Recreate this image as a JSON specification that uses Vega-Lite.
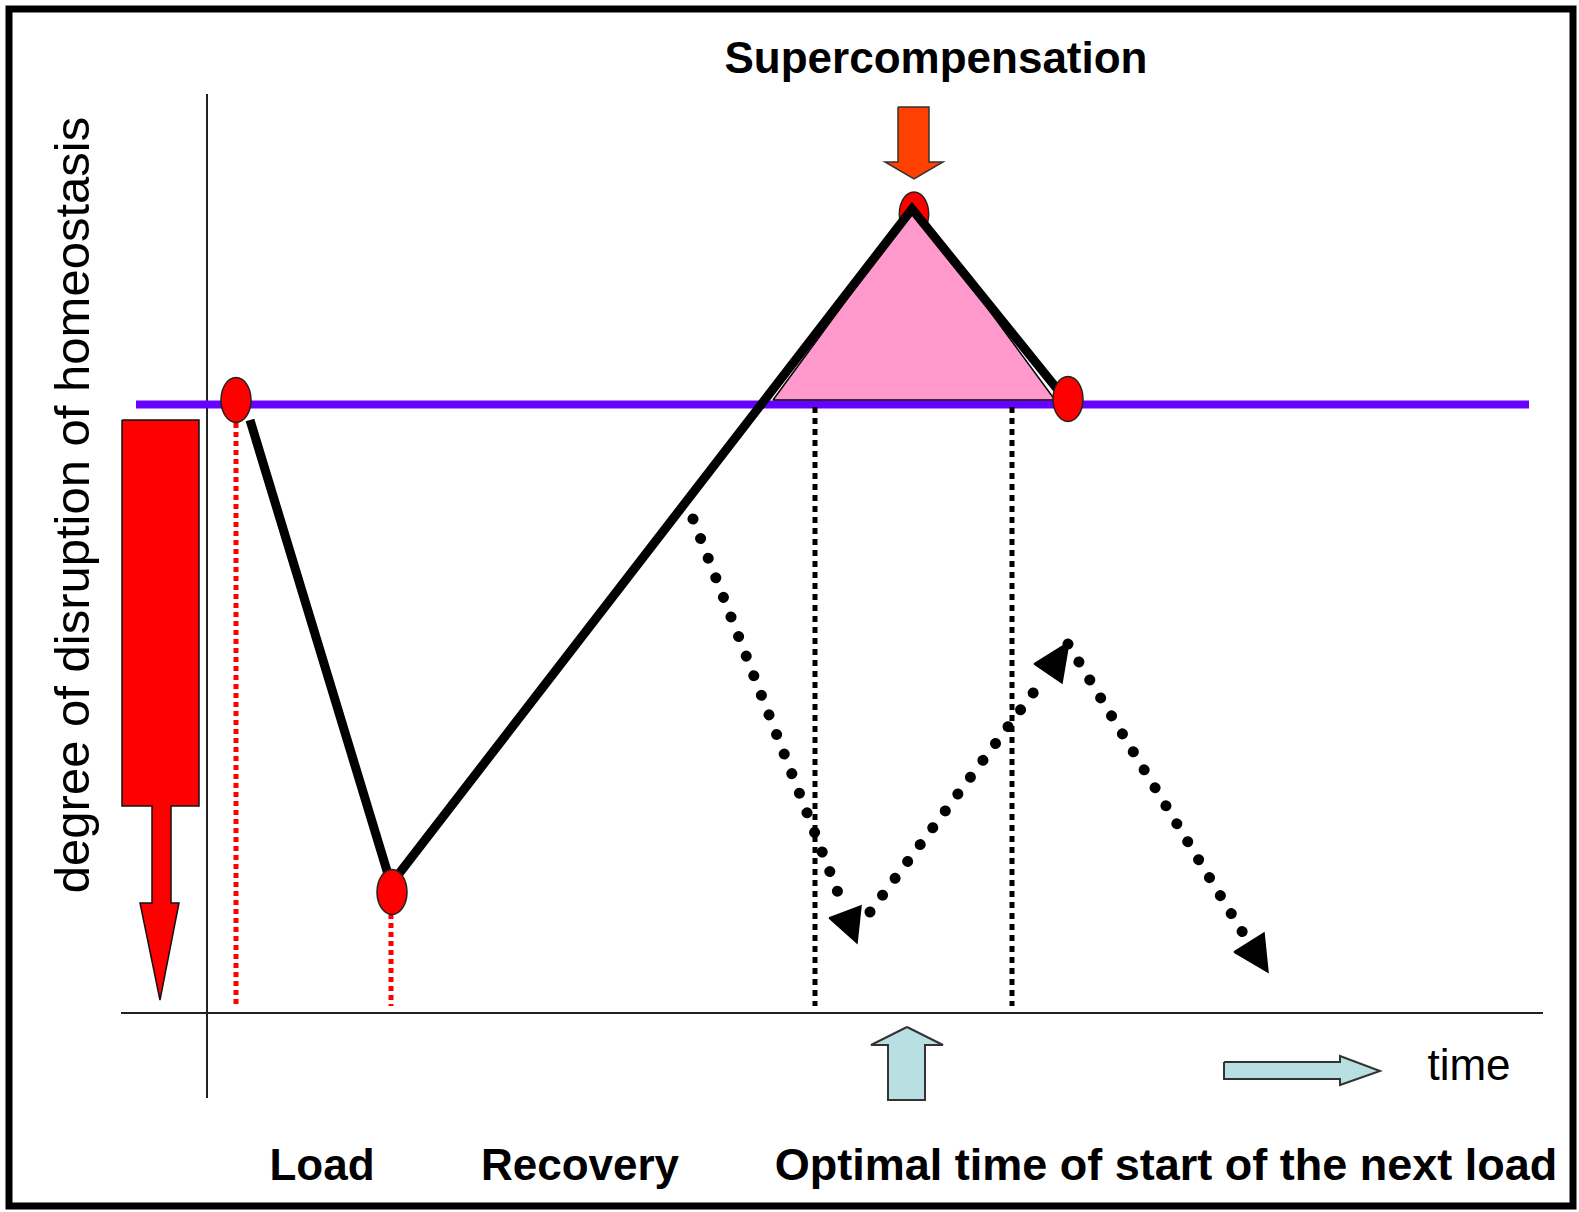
{
  "$schema": "https://vega.github.io/schema/vega-lite/v6.json",
  "width": 1579,
  "height": 1212,
  "padding": 0,
  "autosize": "none",
  "background": "white",
  "config": {"view": {"stroke": null}},
  "datasets": {
    "frame": [{"x": 9, "y": 9, "x2": 1573, "y2": 1206}],
    "axes": [{"x": 207, "y": 94, "x2": 207, "y2": 1098}, {"x": 121, "y": 1013, "x2": 1543, "y2": 1013}],
    "baseline": [{"x": 136, "y": 404.5, "x2": 1529, "y2": 404.5}],
    "redDotted": [{"x": 236, "y": 423, "x2": 236, "y2": 1006}, {"x": 391, "y": 914, "x2": 391, "y2": 1006}],
    "blackDotted": [{"x": 815, "y": 407, "x2": 815, "y2": 1006}, {"x": 1012, "y": 407, "x2": 1012, "y2": 1006}],
    "peakEllipse": [{"x": 914, "y": 214}],
    "ellipses": [{"x": 236, "y": 400}, {"x": 392, "y": 892}, {"x": 1068, "y": 399}],
    "pink": [
      {"i": 0, "x": 773, "y": 400}, {"i": 1, "x": 914, "y": 208}, {"i": 2, "x": 1055, "y": 400}, {"i": 3, "x": 773, "y": 400}
    ],
    "thick": [
      {"i": 0, "x": 250, "y": 420}, {"i": 1, "x": 391, "y": 884}, {"i": 2, "x": 912, "y": 209}, {"i": 3, "x": 1058, "y": 390}
    ],
    "dotted": [
      {"id": "A", "i": 0, "x": 693, "y": 519}, {"id": "A", "i": 1, "x": 842, "y": 903},
      {"id": "B", "i": 0, "x": 870, "y": 912}, {"id": "B", "i": 1, "x": 1045, "y": 677},
      {"id": "C", "i": 0, "x": 1068, "y": 644}, {"id": "C", "i": 1, "x": 1243, "y": 933}
    ],
    "heads": [
      {"id": "T1", "i": 0, "x": 829, "y": 918}, {"id": "T1", "i": 1, "x": 861, "y": 906}, {"id": "T1", "i": 2, "x": 857, "y": 943}, {"id": "T1", "i": 3, "x": 829, "y": 918},
      {"id": "T2", "i": 0, "x": 1034, "y": 664}, {"id": "T2", "i": 1, "x": 1069, "y": 642}, {"id": "T2", "i": 2, "x": 1062, "y": 683}, {"id": "T2", "i": 3, "x": 1034, "y": 664},
      {"id": "T3", "i": 0, "x": 1234, "y": 952}, {"id": "T3", "i": 1, "x": 1264, "y": 933}, {"id": "T3", "i": 2, "x": 1268, "y": 972}, {"id": "T3", "i": 3, "x": 1234, "y": 952}
    ],
    "redArrow": [
      {"i": 0, "x": 122, "y": 420}, {"i": 1, "x": 199, "y": 420}, {"i": 2, "x": 199, "y": 806}, {"i": 3, "x": 171, "y": 806},
      {"i": 4, "x": 171, "y": 903}, {"i": 5, "x": 179, "y": 903}, {"i": 6, "x": 160, "y": 1000}, {"i": 7, "x": 140, "y": 903},
      {"i": 8, "x": 152, "y": 903}, {"i": 9, "x": 152, "y": 806}, {"i": 10, "x": 122, "y": 806}, {"i": 11, "x": 122, "y": 420}
    ],
    "orangeArrow": [
      {"i": 0, "x": 898, "y": 107}, {"i": 1, "x": 929, "y": 107}, {"i": 2, "x": 929, "y": 162}, {"i": 3, "x": 943, "y": 162},
      {"i": 4, "x": 914, "y": 179}, {"i": 5, "x": 885, "y": 162}, {"i": 6, "x": 898, "y": 162}, {"i": 7, "x": 898, "y": 107}
    ],
    "cyanArrows": [
      {"id": "up", "i": 0, "x": 907, "y": 1027}, {"id": "up", "i": 1, "x": 943, "y": 1045}, {"id": "up", "i": 2, "x": 925, "y": 1045},
      {"id": "up", "i": 3, "x": 925, "y": 1100}, {"id": "up", "i": 4, "x": 888, "y": 1100}, {"id": "up", "i": 5, "x": 888, "y": 1045},
      {"id": "up", "i": 6, "x": 871, "y": 1045}, {"id": "up", "i": 7, "x": 907, "y": 1027},
      {"id": "right", "i": 0, "x": 1224, "y": 1062}, {"id": "right", "i": 1, "x": 1340, "y": 1062}, {"id": "right", "i": 2, "x": 1340, "y": 1056},
      {"id": "right", "i": 3, "x": 1380, "y": 1071}, {"id": "right", "i": 4, "x": 1340, "y": 1085}, {"id": "right", "i": 5, "x": 1340, "y": 1079},
      {"id": "right", "i": 6, "x": 1224, "y": 1079}, {"id": "right", "i": 7, "x": 1224, "y": 1062}
    ],
    "boldLabels": [
      {"text": "Supercompensation", "x": 936, "y": 73},
      {"text": "Load", "x": 322, "y": 1180},
      {"text": "Recovery", "x": 580, "y": 1180}
    ],
    "longLabel": [{"text": "Optimal time of start of the next load", "x": 1166, "y": 1180}],
    "timeLabel": [{"text": "time", "x": 1469, "y": 1080}],
    "yLabel": [{"text": "degree of disruption of homeostasis", "x": 89, "y": 505}]
  },
  "encoding": {
    "x": {"field": "x", "type": "quantitative", "scale": {"domain": [0, 1579], "range": [0, 1579], "nice": false, "zero": false}, "axis": null},
    "y": {"field": "y", "type": "quantitative", "scale": {"domain": [0, 1212], "range": [0, 1212], "nice": false, "zero": false}, "axis": null}
  },
  "layer": [
    {"data": {"name": "frame"}, "mark": {"type": "rect", "fill": null, "stroke": "#000000", "strokeWidth": 7},
     "encoding": {"x2": {"field": "x2"}, "y2": {"field": "y2"}}},
    {"data": {"name": "axes"}, "mark": {"type": "rule", "stroke": "#222222", "strokeWidth": 2},
     "encoding": {"x2": {"field": "x2"}, "y2": {"field": "y2"}}},
    {"data": {"name": "baseline"}, "mark": {"type": "rule", "stroke": "#6600ff", "strokeWidth": 8},
     "encoding": {"x2": {"field": "x2"}, "y2": {"field": "y2"}}},
    {"data": {"name": "redDotted"}, "mark": {"type": "rule", "stroke": "#ff0000", "strokeWidth": 5, "strokeDash": [5, 4]},
     "encoding": {"x2": {"field": "x2"}, "y2": {"field": "y2"}}},
    {"data": {"name": "blackDotted"}, "mark": {"type": "rule", "stroke": "#000000", "strokeWidth": 5, "strokeDash": [6, 5]},
     "encoding": {"x2": {"field": "x2"}, "y2": {"field": "y2"}}},
    {"data": {"name": "peakEllipse"}, "mark": {"type": "point", "shape": "M 0 -1 A 0.667 1 0 1 1 0 1 A 0.667 1 0 1 1 0 -1 Z", "size": 1936, "filled": true, "fill": "#ff0000", "stroke": "#222222", "strokeWidth": 1.5, "opacity": 1}},
    {"data": {"name": "pink"}, "mark": {"type": "line", "fill": "#ff99cc", "stroke": "#000000", "strokeWidth": 1.5},
     "encoding": {"order": {"field": "i", "type": "quantitative"}}},
    {"data": {"name": "thick"}, "mark": {"type": "line", "stroke": "#000000", "strokeWidth": 9, "strokeJoin": "miter"},
     "encoding": {"order": {"field": "i", "type": "quantitative"}}},
    {"data": {"name": "ellipses"}, "mark": {"type": "point", "shape": "M 0 -1 A 0.667 1 0 1 1 0 1 A 0.667 1 0 1 1 0 -1 Z", "size": 2025, "filled": true, "fill": "#ff0000", "stroke": "#222222", "strokeWidth": 1.5, "opacity": 1}},
    {"data": {"name": "dotted"}, "mark": {"type": "line", "stroke": "#000000", "strokeWidth": 11, "strokeCap": "round", "strokeDash": [0.01, 21]},
     "encoding": {"order": {"field": "i", "type": "quantitative"}, "detail": {"field": "id", "type": "nominal"}}},
    {"data": {"name": "heads"}, "mark": {"type": "line", "fill": "#000000", "stroke": "#000000", "strokeWidth": 1.5},
     "encoding": {"order": {"field": "i", "type": "quantitative"}, "detail": {"field": "id", "type": "nominal"}}},
    {"data": {"name": "redArrow"}, "mark": {"type": "line", "fill": "#ff0000", "stroke": "#111111", "strokeWidth": 1.5},
     "encoding": {"order": {"field": "i", "type": "quantitative"}}},
    {"data": {"name": "orangeArrow"}, "mark": {"type": "line", "fill": "#ff4000", "stroke": "#333333", "strokeWidth": 1.5},
     "encoding": {"order": {"field": "i", "type": "quantitative"}}},
    {"data": {"name": "cyanArrows"}, "mark": {"type": "line", "fill": "#b8dfe2", "stroke": "#333333", "strokeWidth": 2},
     "encoding": {"order": {"field": "i", "type": "quantitative"}, "detail": {"field": "id", "type": "nominal"}}},
    {"data": {"name": "boldLabels"}, "mark": {"type": "text", "font": "Liberation Sans", "fontWeight": "bold", "fontSize": 44, "align": "center", "baseline": "alphabetic", "color": "#000000"},
     "encoding": {"text": {"field": "text"}}},
    {"data": {"name": "longLabel"}, "mark": {"type": "text", "font": "Liberation Sans", "fontWeight": "bold", "fontSize": 45, "align": "center", "baseline": "alphabetic", "color": "#000000"},
     "encoding": {"text": {"field": "text"}}},
    {"data": {"name": "timeLabel"}, "mark": {"type": "text", "font": "Liberation Sans", "fontSize": 44, "align": "center", "baseline": "alphabetic", "color": "#000000"},
     "encoding": {"text": {"field": "text"}}},
    {"data": {"name": "yLabel"}, "mark": {"type": "text", "font": "Liberation Sans", "fontSize": 49, "angle": 270, "align": "center", "baseline": "alphabetic", "color": "#000000"},
     "encoding": {"text": {"field": "text"}}}
  ]
}
